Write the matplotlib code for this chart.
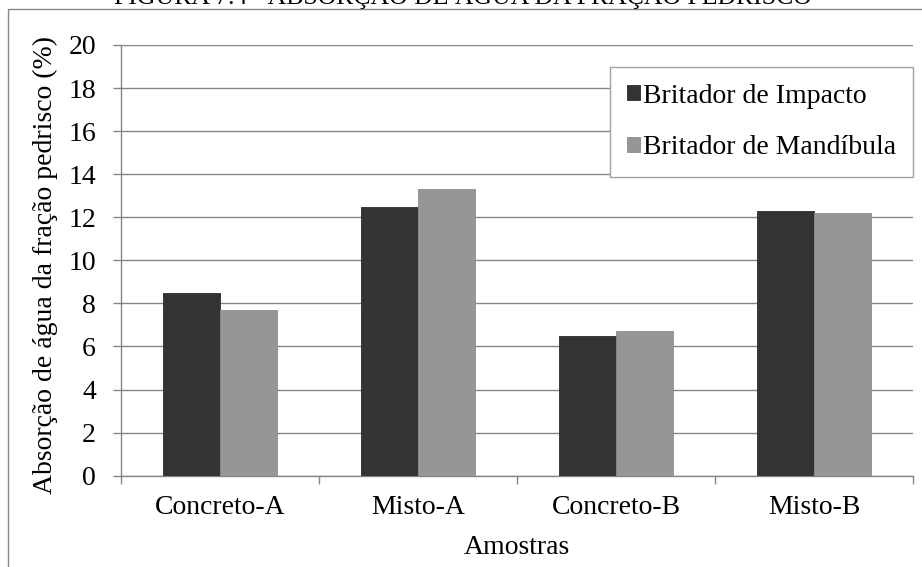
import matplotlib
matplotlib.use("Agg")
import matplotlib.pyplot as plt
from matplotlib.patches import Rectangle
import numpy as np

# Data: water absorption of the "pedrisco" fraction (%)
categories = ["Concreto-A", "Misto-A", "Concreto-B", "Misto-B"]
impacto = [8.5, 12.5, 6.5, 12.3]
mandibula = [7.7, 13.3, 6.7, 12.2]
series_labels = ["Britador de Impacto", "Britador de Mandíbula"]
y_ticks = [0, 2, 4, 6, 8, 10, 12, 14, 16, 18, 20]

W, H, DPI = 922, 567, 100
FS = 20
plt.rcParams["font.family"] = ["Liberation Serif", "DejaVu Serif"]
plt.rcParams["font.size"] = FS

fig = plt.figure(figsize=(W / DPI, H / DPI), dpi=DPI)
fig.patch.set_facecolor("white")

gray = "#868686"

# outer chart frame (runs off the right and bottom edges)
fig.patches.append(Rectangle((8 / W, -0.1), 1.2, 1.1 - 9 / H,
                             transform=fig.transFigure, fill=False,
                             edgecolor=gray, linewidth=1.0, zorder=0))

# figure caption, partly cut at the top
fig.text(463 / W, 1 - 4 / H, "FIGURA 7.4 - ABSORÇÃO DE ÁGUA DA FRAÇÃO PEDRISCO",
         ha="center", va="baseline", fontsize=18.5)

ax = fig.add_axes([121 / W, 1 - 475.7 / H, (913 - 121) / W, (475.7 - 45) / H])

x = np.arange(len(categories))
bw = 0.288
ax.bar(x - bw / 2, impacto, width=bw, color="#333333", edgecolor="#2a2a2a",
       linewidth=0.6, label=series_labels[0], zorder=3)
ax.bar(x + bw / 2, mandibula, width=bw, color="#969696", edgecolor="#8c8c8c",
       linewidth=0.6, label=series_labels[1], zorder=3)

ax.set_xlim(-0.5, len(categories) - 0.5)
ax.set_ylim(0, 20)
ax.set_yticks(y_ticks)
ax.set_yticklabels([str(v) for v in y_ticks])
ax.yaxis.grid(True, color=gray, linewidth=1.0)
ax.set_axisbelow(True)

# category boundaries as major ticks, names on minor ticks
ax.set_xticks(np.arange(-0.5, len(categories), 1.0))
ax.set_xticklabels([])
ax.set_xticks(x, minor=True)
ax.set_xticklabels(categories, minor=True)
ax.tick_params(axis="x", which="major", direction="out", length=6, color=gray, width=1.0)
ax.tick_params(axis="x", which="minor", length=0, pad=14, labelsize=FS)
ax.tick_params(axis="y", direction="out", length=6, color=gray, width=1.0, pad=12, labelsize=FS)

for s in ("top", "right"):
    ax.spines[s].set_visible(False)
for s in ("left", "bottom"):
    ax.spines[s].set_color(gray)
    ax.spines[s].set_linewidth(1.0)

fig.text(45 / W, 1 - 265 / H, "Absorção de água da fração pedrisco (%)",
         rotation=90, ha="center", va="center", fontsize=FS)
fig.text(517 / W, 1 - 548 / H, "Amostras", ha="center", va="center", fontsize=FS)

leg = ax.legend(loc="upper right", bbox_to_anchor=(1.0, 1 - 22 / 430.7),
                borderaxespad=0, frameon=True, fancybox=False, framealpha=1,
                edgecolor="#a0a0a0", handlelength=0.47, handleheight=0.47,
                handletextpad=0.12, labelspacing=0.95, borderpad=0.6,
                fontsize=FS)
leg.get_frame().set_linewidth(1.0)
leg.set_zorder(5)

fig.savefig("out.png", dpi=DPI, facecolor="white")
